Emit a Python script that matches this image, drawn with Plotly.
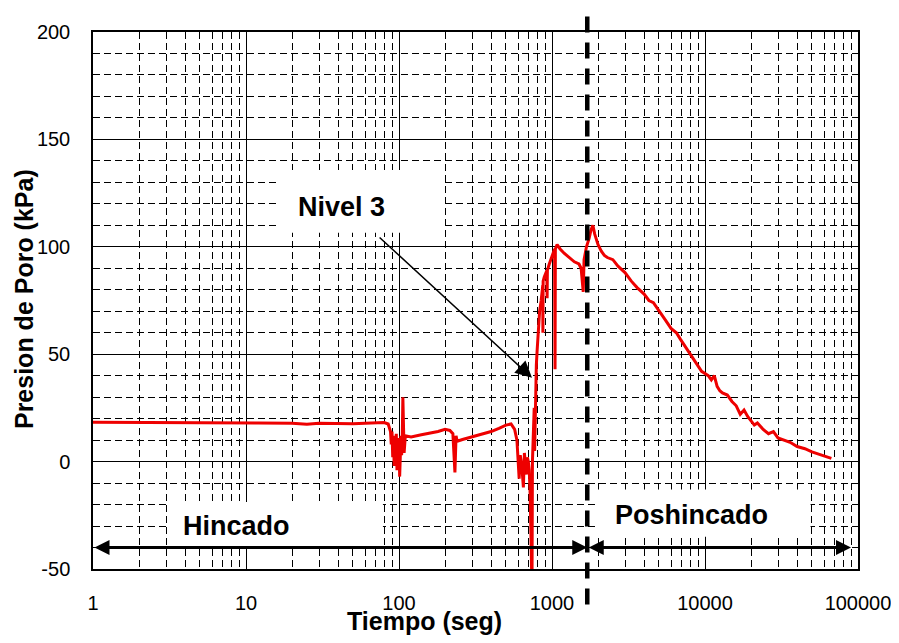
import math
import plotly.graph_objects as go

# Pore pressure record (time in s, pressure in kPa)
tiempo = [1, 1.5, 2, 3, 5, 8, 12, 20, 25, 30, 40, 50, 60, 70, 80, 85, 88,
          89, 90, 91, 92, 93, 94, 95, 96, 97, 98, 99, 100, 101, 102, 103, 104, 105, 106, 107, 108, 110,
          120, 140, 160, 180, 200, 215, 225, 232, 236, 240, 260, 300, 350, 400, 450, 500, 540, 570,
          590, 600, 610, 620, 635, 650, 660, 680, 690, 700, 710, 720, 730, 740, 745,
          755, 765, 770, 780, 790, 800, 815, 830, 850, 870, 872, 875, 890, 910, 925, 929, 933, 960, 990,
          1010, 1040, 1047, 1052, 1080, 1100, 1130, 1200, 1300, 1400, 1500, 1550, 1600, 1620, 1680,
          1750, 1800, 1850, 1900, 2000, 2100, 2200, 2300, 2500, 2700, 3000, 3300, 3600, 4000, 4300,
          4600, 5000, 5500, 6000, 6500, 6900, 7500, 8000, 8500, 9000, 9500, 10000, 10500, 11000,
          11500, 12000, 12500, 13000, 14000, 15000, 16000, 17000, 18000, 19000, 20000, 21000, 22000,
          24000, 26000, 28000, 30000, 33000, 36000, 40000, 45000, 50000, 55000, 60000, 67000]
presion = [18.3, 18.3, 18.2, 18.2, 18.1, 18.1, 18.0, 17.8, 17.4, 17.8, 17.5, 17.6, 17.9, 18.0, 18.2, 17.5, 14.0,
           8, 14, 2, 12, -2, 10, 4, 13, -4, 8, 0, 11, -7, 6, 12, 3, 10, 30, 12, 4, 12,
           11.5, 12.5, 13.2, 14, 15, 14.5, 13, -5, 12, 9.5, 10.3, 11.5, 13, 14, 15.5, 17, 17.5, 15,
           10, 2, -8, 3, -2, -12, 4, -6, 2, 0, -4, -15, -35, -60, 0,
           12, 25, 5, 33, 45, 52, 62, 70, 75, 82, 60, 84, 86, 88, 89, 76, 89, 92, 95,
           97, 99, 43, 99, 101, 100, 99, 97, 95, 93, 92, 90, 79, 94, 100,
           104, 108, 110, 106, 101, 98, 96, 95, 94, 91, 88, 84, 81, 78, 75,
           74, 70, 66, 62, 60, 57, 53, 50, 47, 44, 42, 41, 40, 38,
           40, 35, 33, 32, 31, 28, 26, 22, 24, 21, 19, 17, 18,
           15, 13, 14, 11, 10, 9, 7, 6, 4.5, 3.5, 2.5, 1.5]

x_ticks = [1, 10, 100, 1000, 10000, 100000]
x_tick_labels = ["1", "10", "100", "1000", "10000", "100000"]
y_ticks = [-50, 0, 50, 100, 150, 200]
y_tick_labels = ["-50", "0", "50", "100", "150", "200"]

fin_hincado = 1700      # end of driving (s)
fin_registro = 90000
nivel_punta = (740, 39)   # where the "Nivel 3" arrow points
nivel_cola = (73, 105)
y_flechas = -40

FONT = "Liberation Sans, Arial, sans-serif"

fig = go.Figure()
fig.add_trace(go.Scatter(x=tiempo, y=presion, mode="lines",
                         line=dict(color="#ee0000", width=3), showlegend=False))

minor_x = [m * 10 ** d for d in range(5) for m in range(2, 10)]
fig.update_xaxes(type="log", range=[0, 5], tickmode="array", tickvals=x_ticks, ticktext=x_tick_labels,
                 showgrid=True, gridcolor="black", gridwidth=1.2, ticks="", automargin=False,
                 minor=dict(tickvals=minor_x, showgrid=True, gridcolor="black", gridwidth=1,
                            griddash="7px,4px", ticks=""),
                 showline=True, mirror=True, linecolor="black", linewidth=1.5,
                 tickfont=dict(family=FONT, size=20, color="black"), ticklabelstandoff=15)
fig.update_yaxes(range=[-50, 200], tickmode="array", tickvals=y_ticks, ticktext=y_tick_labels,
                 showgrid=True, gridcolor="black", gridwidth=1.2, ticks="", zeroline=False, automargin=False,
                 minor=dict(dtick=10, showgrid=True, gridcolor="black", gridwidth=1,
                            griddash="7px,4px", ticks=""),
                 showline=True, mirror=True, linecolor="black", linewidth=1.5,
                 tickfont=dict(family=FONT, size=20, color="black"), ticklabelstandoff=17)

# white label boxes over the grid
for x0, x1, y0, y1 in [(0.242, 0.458, 0.626, 0.743), (0.097, 0.379, 0.042, 0.125),
                       (0.659, 0.938, 0.060, 0.148)]:
    fig.add_shape(type="rect", xref="paper", yref="paper", x0=x0, x1=x1, y0=y0, y1=y1,
                  fillcolor="white", line=dict(width=0), layer="above")

# end of driving marker
fig.add_shape(type="line", xref="x", yref="paper", x0=fin_hincado, x1=fin_hincado, y0=-0.066, y1=1.037,
              line=dict(color="black", width=4.5, dash="16px,10px"), layer="above")

lg = math.log10
fig.add_annotation(x=lg(nivel_punta[0]), y=nivel_punta[1], ax=lg(nivel_cola[0]), ay=nivel_cola[1],
                   xref="x", yref="y", axref="x", ayref="y", text="", showarrow=True,
                   arrowhead=2, arrowsize=2.2, arrowwidth=1.5, arrowcolor="black", standoff=0)
for a, b in [(1, fin_hincado), (fin_hincado, fin_registro)]:
    fig.add_annotation(x=lg(b), y=y_flechas, ax=lg(a), ay=y_flechas, xref="x", yref="y",
                       axref="x", ayref="y", text="", showarrow=True, arrowside="end+start",
                       arrowhead=2, arrowsize=1, arrowwidth=3, arrowcolor="black", standoff=0,
                       startstandoff=0)

lab = dict(family=FONT, size=27, color="black")
for txt, x, y in [("Nivel 3", 0.3245, 0.674), ("Hincado", 0.187, 0.081), ("Poshincado", 0.782, 0.101)]:
    fig.add_annotation(x=x, y=y, xref="paper", yref="paper", text="<b>%s</b>" % txt,
                       xanchor="center", yanchor="middle", showarrow=False, font=lab)

fig.add_annotation(x=0.433, y=-0.097, xref="paper", yref="paper", text="<b>Tiempo (seg)</b>",
                   xanchor="center", yanchor="middle", showarrow=False,
                   font=dict(family=FONT, size=25, color="black"))
fig.add_annotation(x=-0.09, y=0.503, xref="paper", yref="paper", text="<b>Presion de Poro (kPa)</b>",
                   xanchor="center", yanchor="middle", showarrow=False, textangle=-90,
                   font=dict(family=FONT, size=25, color="black"))

# the page body adds an 8px offset, so the figure is 8px smaller on each side
fig.update_layout(width=891, height=635, margin=dict(l=85, r=41, t=24, b=74),
                  paper_bgcolor="white", plot_bgcolor="white", showlegend=False)

fig.write_html("out.html")
